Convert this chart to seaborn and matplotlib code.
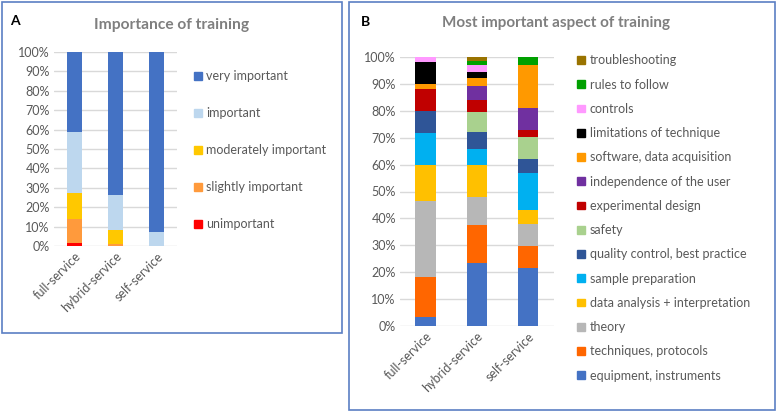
import matplotlib
matplotlib.use("Agg")
import matplotlib.pyplot as plt
from matplotlib.patches import Patch, Rectangle
from matplotlib.ticker import FuncFormatter, MultipleLocator
import pandas as pd
import seaborn as sns

# ---- data (percent of respondents) ----
services = ["full-service", "hybrid-service", "self-service"]

# panel A, top of stack first
importance_levels = ["very important", "important", "moderately important",
                     "slightly important", "unimportant"]
very_important = [41.0, 73.7, 92.8]
important = [31.7, 18.1, 7.2]
moderately_important = [13.4, 7.2, 0.0]
slightly_important = [12.4, 1.0, 0.0]
unimportant = [1.5, 0.0, 0.0]
importance_colors = ["#4472C4", "#BDD7EE", "#FFC800", "#FF9A3C", "#FF0000"]

# panel B, top of stack first
aspects = ["troubleshooting", "rules to follow", "controls",
           "limitations of technique", "software, data acquisition",
           "independence of the user", "experimental design", "safety",
           "quality control, best practice", "sample preparation",
           "data analysis + interpretation", "theory",
           "techniques, protocols", "equipment, instruments"]
troubleshooting = [0.0, 1.4, 0.0]
rules_to_follow = [0.0, 1.4, 2.7]
controls = [1.7, 2.9, 0.0]
limitations = [8.3, 2.2, 0.0]
software = [1.7, 2.9, 16.2]
independence = [0.0, 5.1, 8.1]
experimental_design = [8.3, 4.6, 2.7]
safety = [0.0, 7.3, 8.1]
quality_control = [8.3, 6.3, 5.4]
sample_preparation = [11.7, 6.1, 13.5]
data_analysis = [13.3, 12.0, 5.4]
theory = [28.3, 10.2, 8.1]
techniques = [15.0, 14.1, 8.1]
equipment = [3.3, 23.5, 21.6]
aspect_colors = ["#997300", "#00A000", "#FF99FF", "#000000", "#FF9900",
                 "#7030A0", "#C00000", "#A9D18E", "#2F5597", "#00B0F0",
                 "#FFC000", "#B7B7B7", "#FF6600", "#4472C4"]

imp_series = [very_important, important, moderately_important,
              slightly_important, unimportant]
asp_series = [troubleshooting, rules_to_follow, controls, limitations,
              software, independence, experimental_design, safety,
              quality_control, sample_preparation, data_analysis, theory,
              techniques, equipment]


def long_table(levels, series):
    rows = []
    for lvl, vals in zip(levels, series):
        for svc, v in zip(services, vals):
            rows.append({"service": svc, "level": lvl, "pct": v})
    df = pd.DataFrame(rows)
    df["service"] = pd.Categorical(df["service"], categories=services)
    return df


df_a = long_table(importance_levels, imp_series)
df_b = long_table(aspects, asp_series)

sns.set_theme(style="white")
plt.rcParams["font.family"] = ["Lato", "DejaVu Sans"]

W, H = 779, 413
fig = plt.figure(figsize=(W / 100, H / 100), dpi=100)
GREY = "#595959"
FS = 9


def px_axes(x0, y0, x1, y1):
    return fig.add_axes([x0 / W, 1 - y1 / H, (x1 - x0) / W, (y1 - y0) / H])


def style_axes(ax):
    ax.set_xlim(-0.5, 2.5)
    ax.set_ylim(0, 100)
    ax.yaxis.set_major_locator(MultipleLocator(10))
    ax.yaxis.set_major_formatter(FuncFormatter(lambda v, _: f"{v:.0f}%"))
    ax.set_xticks(range(len(services)))
    ax.set_xticklabels(services, rotation=45, ha="right",
                       rotation_mode="anchor")
    ax.grid(axis="y", color="#D9D9D9", lw=1)
    ax.set_axisbelow(True)
    sns.despine(ax=ax, left=True, bottom=True)
    ax.tick_params(axis="both", length=0, labelsize=FS, colors=GREY, pad=3)
    ax.set_xlabel("")
    ax.set_ylabel("")


def stacked(ax, df, order, colors, shrink):
    sns.histplot(data=df, x="service", weights="pct", hue="level",
                 hue_order=order, palette=colors, multiple="stack",
                 discrete=True, shrink=shrink, alpha=1, linewidth=0,
                 legend=False, ax=ax)


# ---- panel A ----
ax_a = px_axes(54, 52, 177, 246)
stacked(ax_a, df_a, importance_levels, importance_colors, 0.39)
style_axes(ax_a)
handles_a = [Patch(color=c, label=l) for l, c in zip(importance_levels, importance_colors)]
fig.legend(handles=handles_a, loc="center left",
           bbox_to_anchor=(194 / W, 1 - 150 / H), frameon=False,
           fontsize=FS, labelcolor=GREY, handlelength=0.6, handleheight=0.6,
           handletextpad=0.4, labelspacing=2.0, borderpad=0, borderaxespad=0)

# ---- panel B ----
ax_b = px_axes(400, 57, 553.5, 326)
stacked(ax_b, df_b, aspects, aspect_colors, 0.40)
style_axes(ax_b)
handles_b = [Patch(color=c, label=l) for l, c in zip(aspects, aspect_colors)]
fig.legend(handles=handles_b, loc="center left",
           bbox_to_anchor=(577 / W, 1 - 218 / H), frameon=False,
           fontsize=FS, labelcolor=GREY, handlelength=0.6, handleheight=0.6,
           handletextpad=0.4, labelspacing=0.98, borderpad=0, borderaxespad=0)

# titles and panel letters
fig.text(172 / W, 1 - 25 / H, "Importance of training", ha="center",
         va="center", fontsize=11.2, fontweight="bold", color="#7F7F7F")
fig.text(15 / W, 1 - 21 / H, "A", ha="center", va="center",
         fontsize=10, fontweight="bold", color="black")
fig.text(556 / W, 1 - 23 / H, "Most important aspect of training",
         ha="center", va="center", fontsize=11, fontweight="bold",
         color="#7F7F7F")
fig.text(366 / W, 1 - 22 / H, "B", ha="center", va="center",
         fontsize=10, fontweight="bold", color="black")

# panel frames
for x0, y0, x1, y1 in [(2, 2, 342, 333), (349, 2, 775, 410)]:
    fig.patches.append(Rectangle((x0 / W, 1 - y1 / H), (x1 - x0) / W,
                                 (y1 - y0) / H, transform=fig.transFigure,
                                 fill=False, edgecolor="#5B7FC4", lw=1.2))

fig.savefig("out.png", dpi=100)
